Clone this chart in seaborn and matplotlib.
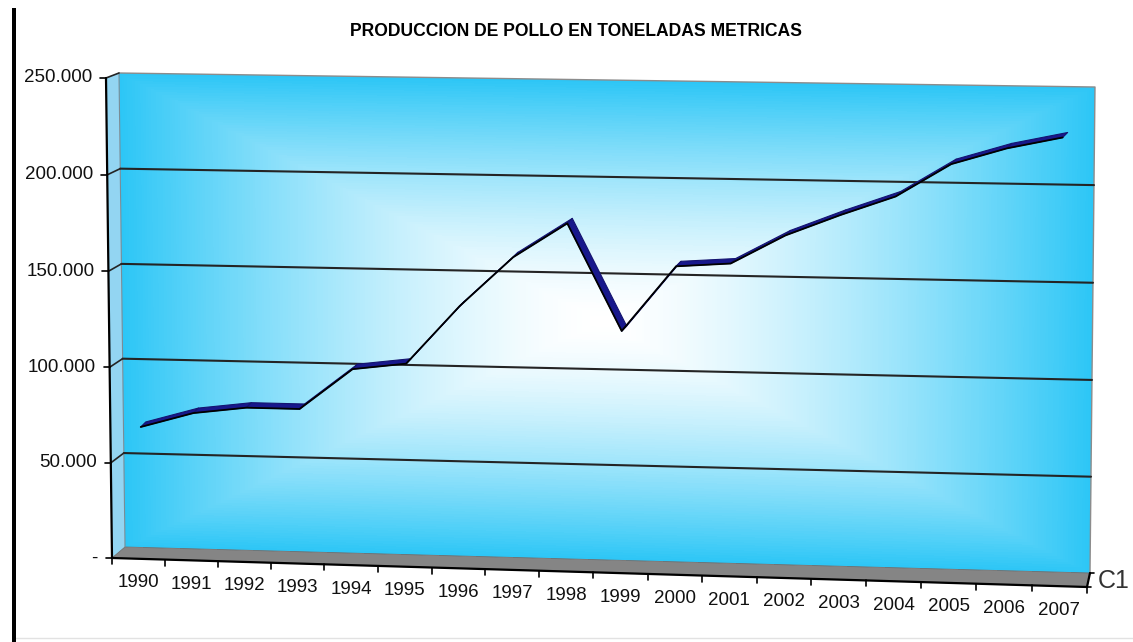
import numpy as np
import matplotlib
matplotlib.use("Agg")
import matplotlib.pyplot as plt
import seaborn as sns
from matplotlib.transforms import Transform, ScaledTranslation, IdentityTransform
from matplotlib.colors import LinearSegmentedColormap
from matplotlib.collections import PolyCollection
from matplotlib.patches import Polygon, Rectangle
from matplotlib.lines import Line2D

# ---------------------------------------------------------------- data
years = [1990, 1991, 1992, 1993, 1994, 1995, 1996, 1997, 1998,
         1999, 2000, 2001, 2002, 2003, 2004, 2005, 2006, 2007]
toneladas = [68000, 76000, 79500, 79500, 101000, 104500, 135000, 161000, 179000,
             124000, 158000, 160000, 175000, 186000, 196000, 213000, 221500, 227500]
y_ticks = [0, 50000, 100000, 150000, 200000, 250000]
y_tick_labels = ["-", "50.000", "100.000", "150.000", "200.000", "250.000"]
title = "PRODUCCION DE POLLO EN TONELADAS METRICAS"
series_name = "C1"

W, H = 1133, 642
sns.set_theme(style="white")
plt.rcParams["font.family"] = ["Liberation Sans", "DejaVu Sans"]

fig = plt.figure(figsize=(W / 100, H / 100), dpi=100)
fig.patch.set_facecolor("white")
ax = fig.add_axes([0, 0, 1, 1])
n = len(years)
idx = np.arange(n)
ax.set_xlim(-0.5, n - 0.5)
ax.set_ylim(0, y_ticks[-1])
ax.set_autoscale_on(False)
ax.axis("off")


# ------------------------------------------------- 3-D perspective helpers
class Projective(Transform):
    """Planar homography from the unit square to figure coordinates."""
    input_dims = 2
    output_dims = 2
    is_separable = False
    has_inverse = False

    def __init__(self, M):
        super().__init__()
        self.M = np.asarray(M, float)

    def transform_non_affine(self, values):
        v = np.atleast_2d(np.asarray(values, float))
        p = np.column_stack([v, np.ones(len(v))]) @ self.M.T
        return p[:, :2] / p[:, 2:3]


def homography(dst):
    src = [(0, 0), (1, 0), (1, 1), (0, 1)]
    A, b = [], []
    for (x, y), (X, Y) in zip(src, dst):
        A.append([x, y, 1, 0, 0, 0, -X * x, -X * y]); b.append(X)
        A.append([0, 0, 0, x, y, 1, -Y * x, -Y * y]); b.append(Y)
    h = np.linalg.solve(np.array(A, float), np.array(b, float))
    return np.append(h, 1).reshape(3, 3)


# plot-box corners (pixels from top-left): bottom-left, bottom-right, top-right, top-left
front_px = [(112, 558), (1087, 587), (1092, 95), (106, 78)]
back_px = [(125, 547), (1090, 573), (1095, 87), (119, 73)]


def plane(depth, dx=0.0, dy=0.0):
    pts = [((1 - depth) * f[0] + depth * b[0], (1 - depth) * f[1] + depth * b[1])
           for f, b in zip(front_px, back_px)]
    dst = [(x / W, 1 - y / H) for x, y in pts]
    tr = ax.transScale + ax.transLimits + Projective(homography(dst)) + fig.transFigure
    if dx or dy:
        tr = tr + ScaledTranslation(dx / 100, -dy / 100, fig.dpi_scale_trans)
    return tr


front = plane(0.0)
back = plane(1.0)
xmin, xmax = -0.5, n - 0.5
ymax = y_ticks[-1]


def disp(tr, pts):
    return tr.transform(np.asarray(pts, float))


# ---------------------------------------------------- back wall gradient
xs = np.linspace(xmin, xmax, 361)
vs = np.linspace(0, ymax, 181)
uc = ((xs[:-1] + xs[1:]) / 2 - xmin) / (xmax - xmin)
wc = ((vs[:-1] + vs[1:]) / 2) / ymax
U, Wn = np.meshgrid(uc, wc)
t = np.maximum(np.abs(2 * U - 1), np.abs(2 * Wn - 1))
shade = np.clip(t, 0, 1) ** 1.5
wall_cmap = LinearSegmentedColormap.from_list("wall", ["#FFFFFF", "#2CC6F6"])
ax.pcolormesh(xs, vs, shade, cmap=wall_cmap, vmin=0, vmax=1, transform=back,
              shading="flat", antialiased=False, edgecolors="none", zorder=1)

# side wall on the left
side = np.vstack([disp(front, [(xmin, 0), (xmin, ymax)]),
                  disp(back, [(xmin, ymax), (xmin, 0)])])
ax.add_patch(Polygon(side, closed=True, transform=IdentityTransform(),
                     facecolor="#93D5F2", edgecolor="none", zorder=1.5))

# floor
floor = np.vstack([disp(front, [(xmin, 0), (xmax, 0)]),
                   disp(back, [(xmax, 0), (xmin, 0)])])
ax.add_patch(Polygon(floor, closed=True, transform=IdentityTransform(),
                     facecolor="#858585", edgecolor="#6e6e6e", lw=0.6, zorder=2))

# wall outline
ax.plot([xmin, xmax, xmax], [ymax, ymax, 0], transform=back,
        color="#8c8c8c", lw=1.0, zorder=2.2)
ax.plot([xmin, xmin], [0, ymax], transform=back, color="#7a8c96", lw=0.8, zorder=2.2)

# gridlines on back wall and side wall
for v in y_ticks[1:-1]:
    ax.plot([xmin, xmax], [v, v], transform=back, color="#242424", lw=1.5, zorder=2.5)
for v in y_ticks[1:]:
    seg = np.vstack([disp(front, [(xmin, v)]), disp(back, [(xmin, v)])])
    ax.add_line(Line2D(seg[:, 0], seg[:, 1], transform=IdentityTransform(),
                       color="#242424", lw=1.2, zorder=2.5))

# ---------------------------------------------------------- ribbon line
rib_front = plane(0.5, -2.5, 2.5)
rib_back = plane(0.5, 2.5, -2.5)
pts = np.column_stack([idx, toneladas])
F = disp(rib_front, pts)
B = disp(rib_back, pts)
faces = [[F[k], F[k + 1], B[k + 1], B[k]] for k in range(n - 1)]
ax.add_collection(PolyCollection(faces, transform=IdentityTransform(),
                                 facecolors="#18188C", edgecolors="#141470",
                                 linewidths=0.8, zorder=4))
sns.lineplot(x=idx, y=toneladas, ax=ax, transform=rib_front, color="black",
             lw=1.3, zorder=5, legend=False)
ax.set_xlim(xmin, xmax)
ax.set_ylim(0, ymax)
ax.axis("off")

# --------------------------------------------------------------- axes
ax.plot([xmin, xmin], [0, ymax], transform=front, color="black", lw=1.6, zorder=6)
ax.plot([xmin, xmax], [0, 0], transform=front, color="black", lw=1.6, zorder=6)
for v, lab in zip(y_ticks, y_tick_labels):
    p = disp(front, [(xmin, v)])[0]
    ax.add_line(Line2D([p[0] - 6, p[0]], [p[1], p[1]], transform=IdentityTransform(),
                       color="black", lw=1.2, zorder=6))
    ax.text(xmin, v, lab, transform=plane(0, -14, 0), ha="right", va="center",
            fontsize=13.5, color="#111111", zorder=7)
for b in np.arange(n + 1) - 0.5:
    p = disp(front, [(b, 0)])[0]
    ax.add_line(Line2D([p[0], p[0]], [p[1], p[1] - 6], transform=IdentityTransform(),
                       color="black", lw=1.2, zorder=6))
for i, yr in enumerate(years):
    ax.text(i, 0, str(yr), transform=plane(0, 0, 24), ha="center", va="center",
            fontsize=13.5, color="#111111", zorder=7)

# depth axis with series label
pf = disp(front, [(xmax, 0)])[0]
pb = disp(back, [(xmax, 0)])[0]
ax.add_line(Line2D([pf[0], pb[0]], [pf[1], pb[1]], transform=IdentityTransform(),
                   color="black", lw=1.6, zorder=6))
for q in (pf, pb):
    ax.add_line(Line2D([q[0], q[0] + 4], [q[1], q[1]], transform=IdentityTransform(),
                       color="black", lw=1.2, zorder=6))
ax.text(xmax, 0, series_name, transform=plane(0, 11, -6), ha="left", va="center",
        fontsize=18, color="#333333", zorder=7)

# ---------------------------------------------------------------- title
ttl = fig.text(576 / W, 1 - 32 / H, title, ha="center", va="center",
               fontweight="bold", fontsize=12, color="black")
renderer = fig.canvas.get_renderer()
wid = ttl.get_window_extent(renderer).width
ttl.set_fontsize(12 * 453 / wid)

# frame pieces around the chart area
fig.patches.append(Rectangle((12 / W, 0), 3.5 / W, (H - 8) / H, transform=fig.transFigure,
                             facecolor="black", edgecolor="none", zorder=10))
fig.lines.append(Line2D([15 / W, 1], [4 / H, 4 / H], transform=fig.transFigure,
                        color="#e2e2e2", lw=1.0))

fig.savefig("out.png", dpi=100, facecolor="white")
